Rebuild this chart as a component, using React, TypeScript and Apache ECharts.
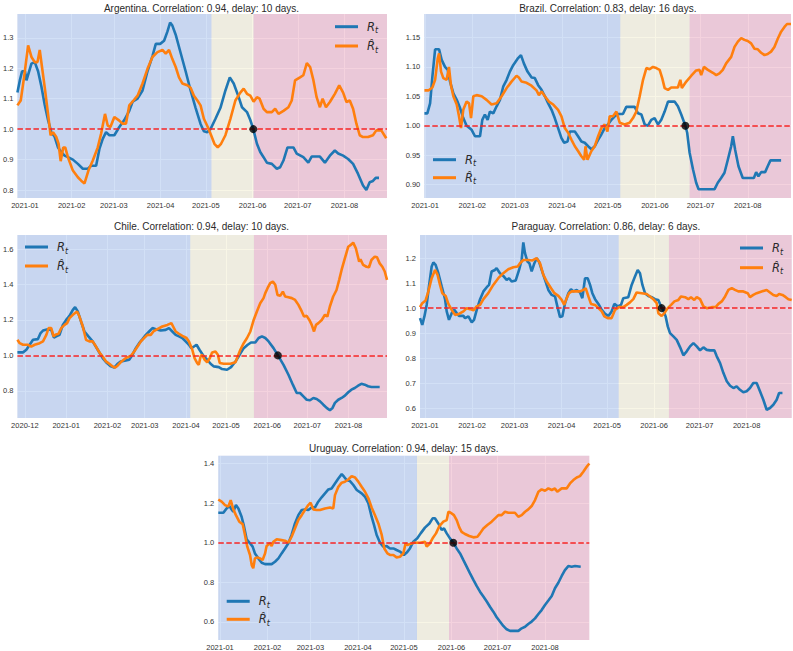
import React, { useEffect, useRef } from 'react';
import * as echarts from 'echarts';

// x values are days counted from 2021-01-01 (day 0)
const MONTH_TICKS = [-31, 0, 31, 59, 90, 120, 151, 181, 212];
const MONTH_LABELS = ['2020-12', '2021-01', '2021-02', '2021-03', '2021-04', '2021-05', '2021-06', '2021-07', '2021-08'];

const COUNTRIES = ['Argentina', 'Brazil', 'Chile', 'Paraguay', 'Uruguay'];
const CORRELATIONS = ['0.94', '0.83', '0.94', '0.86', '0.94'];
const DELAYS = [10, 16, 10, 6, 15];
const X_RANGES = [[-5, 240.2], [-0.5, 240.4], [-36.6, 240.9], [-3.3, 241.7], [-1.1, 240.9]];
const Y_RANGES = [[0.774, 1.378], [0.877, 1.19], [0.647, 1.679], [0.56, 1.293], [0.509, 1.439]];
const Y_TICKS = [
  [0.8, 0.9, 1.0, 1.1, 1.2, 1.3],
  [0.9, 0.95, 1.0, 1.05, 1.1, 1.15],
  [0.8, 1.0, 1.2, 1.4, 1.6],
  [0.6, 0.7, 0.8, 0.9, 1.0, 1.1, 1.2],
  [0.6, 0.8, 1.0, 1.2, 1.4],
];
const Y_DECIMALS = [1, 2, 1, 1, 1];
const PHASE_EDGES = [[123.8, 151.7], [128.3, 173.8], [93.2, 141], [127.7, 160.8], [128.5, 149.4]];
const CROSS_DAYS = [151.5, 171, 159, 156, 152.2];
const THRESHOLD = 1.0;

const ARG_RT = [[-5,1.12],[-3.4,1.16],[-1.9,1.19],[0,1.19],[1,1.16],[4.3,1.215],[6.5,1.22],[8.7,1.19],[10.9,1.14],[13.1,1.08],[15.3,1.03],[17.5,0.99],[19.7,0.975],[21.9,0.94],[24.1,0.925],[26.3,0.913],[28.5,0.908],[31.8,0.9],[35.1,0.886],[38.4,0.87],[41.7,0.87],[43.9,0.88],[47.2,0.88],[49.4,0.935],[51.6,0.968],[53.8,0.99],[56,0.98],[59.3,0.98],[62.6,1.007],[65.9,1.03],[69.2,1.06],[71.4,1.09],[74.7,1.1],[78,1.127],[81.3,1.19],[84.6,1.24],[86.8,1.28],[89.7,1.28],[92.3,1.29],[94.5,1.32],[96.3,1.35],[97.8,1.34],[100,1.31],[103.3,1.25],[106.6,1.19],[109.9,1.127],[113.2,1.07],[116.5,1.017],[118.7,0.993],[120.9,0.99],[123.1,1.0],[126.4,1.034],[129.7,1.07],[133,1.127],[135.9,1.17],[138.5,1.15],[141.8,1.105],[144,1.072],[147.3,1.056],[149.5,1.03],[151.5,1.0],[153.9,0.952],[156.1,0.925],[158.3,0.908],[160.5,0.89],[163.8,0.886],[167.1,0.87],[169.3,0.875],[171.5,0.897],[174.2,0.94],[178.1,0.94],[180.3,0.92],[184.7,0.908],[188,0.89],[190.2,0.91],[195.7,0.91],[199,0.89],[202.3,0.913],[205.6,0.93],[207.8,0.92],[211.1,0.913],[214.4,0.902],[217.7,0.886],[221,0.853],[224.3,0.815],[226.5,0.8],[228.7,0.826],[230.9,0.83],[232.7,0.84],[234.9,0.84]];
const ARG_RHAT = [[-5,1.078],[-2.8,1.094],[-0.6,1.17],[2.1,1.275],[4.3,1.237],[6.5,1.22],[8.3,1.22],[9.8,1.26],[11.3,1.204],[13.1,1.138],[15.3,1.05],[17,0.98],[18.6,0.99],[20.8,0.974],[22.3,0.952],[23.7,0.895],[25.4,0.94],[26.7,0.94],[28.5,0.908],[31.8,0.864],[35.1,0.842],[37.3,0.831],[39.5,0.822],[42.1,0.864],[45,0.897],[48.3,0.94],[50.5,0.985],[53.1,1.05],[54.9,1.012],[56.7,1.007],[59.3,1.04],[62.6,1.028],[64.8,1.018],[67,1.018],[69.2,1.078],[72,1.094],[74.7,1.11],[78,1.15],[81.3,1.198],[84.6,1.237],[87.9,1.253],[91.2,1.26],[93.4,1.248],[95.6,1.26],[97.8,1.23],[100,1.204],[102.2,1.17],[104.4,1.15],[107.7,1.144],[109.9,1.136],[112.1,1.11],[114.4,1.094],[116.5,1.078],[118.7,1.034],[121.3,1.007],[123.5,0.98],[125.7,0.952],[127.9,0.94],[130.1,0.952],[133,0.98],[136.3,1.034],[139.6,1.094],[142.9,1.12],[145.1,1.133],[147.3,1.116],[149.5,1.11],[151.7,1.09],[153.9,1.105],[155.7,1.1],[158.3,1.067],[160.5,1.056],[163.8,1.056],[166,1.067],[168.2,1.05],[171.5,1.06],[174.8,1.072],[177,1.094],[179.2,1.16],[182.5,1.17],[184.7,1.177],[187,1.217],[189.2,1.204],[191.4,1.16],[193.5,1.105],[195.7,1.072],[197.5,1.1],[199.7,1.072],[202.3,1.089],[205.6,1.116],[208.5,1.144],[211.1,1.12],[213.3,1.089],[215.5,1.094],[217.7,1.067],[219.9,1.018],[222.1,0.98],[224.3,0.974],[227.6,0.974],[230.9,0.98],[233.1,0.996],[236.4,0.996],[239.7,0.97]];

const BRA_RT = [[-0.4,1.021],[1.5,1.021],[3.3,1.038],[4.8,1.083],[6.6,1.13],[9.2,1.13],[10.9,1.112],[13.1,1.1],[14.9,1.095],[16.4,1.075],[18.6,1.055],[20.8,1.044],[23,1.03],[25.1,1.013],[27.3,1.0],[30.6,0.993],[32.8,0.982],[36.1,0.982],[37.6,1.01],[39.3,1.019],[41.1,1.01],[42.6,1.024],[44.8,1.021],[47,1.033],[49.2,1.044],[51.4,1.067],[53.6,1.078],[55.7,1.092],[57.9,1.103],[60.8,1.114],[63,1.12],[64.9,1.106],[67.3,1.092],[70,1.082],[72.1,1.081],[74.3,1.069],[76.5,1.061],[78.7,1.05],[80.9,1.038],[83.1,1.027],[85.2,1.013],[87.4,0.996],[89.6,0.979],[91.4,0.971],[93.6,0.973],[95.1,0.99],[98.4,0.99],[100.5,0.982],[102.7,0.973],[104.9,0.971],[107.1,0.965],[109.3,0.96],[111.5,0.965],[113.7,0.976],[115.8,0.985],[118,0.996],[120.2,1.002],[122.4,1.01],[124.6,1.016],[126.8,1.02],[130,1.02],[132.2,1.032],[137.7,1.032],[139.9,1.021],[142.1,1.019],[144.3,1.002],[146.4,1.0],[148.6,1.01],[150.8,1.013],[153,1.002],[155.2,1.01],[157.4,1.024],[159.6,1.041],[163.9,1.041],[166.1,1.033],[168.3,1.019],[171,1.0],[172.2,0.988],[173.8,0.954],[176,0.926],[178.1,0.903],[179.7,0.892],[190.2,0.892],[192.3,0.903],[194.5,0.911],[196.7,0.92],[198.9,0.942],[201.1,0.965],[202.2,0.982],[203.7,0.959],[205.9,0.931],[208.7,0.911],[216,0.911],[217.5,0.921],[219,0.914],[220.8,0.921],[223.4,0.921],[225.1,0.931],[226.9,0.941],[233.9,0.941]];
const BRA_RHAT = [[-0.4,1.06],[2.2,1.06],[4.8,1.065],[6.6,1.078],[8.3,1.114],[9.2,1.123],[10.5,1.092],[12,1.081],[14.2,1.078],[15.7,1.1],[17,1.069],[18.6,1.05],[20.8,1.036],[22.3,1.016],[23.6,0.996],[25.1,1.027],[27.3,1.041],[28.9,1.038],[30.2,1.013],[31.7,1.05],[33.9,1.052],[37.2,1.05],[40.4,1.044],[43.7,1.036],[47,1.038],[50.3,1.05],[53.6,1.064],[56.8,1.075],[60.1,1.085],[61.6,1.082],[63.4,1.075],[66.7,1.073],[69.9,1.068],[73.2,1.06],[74.8,1.052],[76.5,1.058],[78.7,1.05],[81.3,1.041],[84.2,1.036],[87.4,1.027],[89.6,1.016],[91.8,0.996],[94,0.988],[96.2,0.976],[98.4,0.965],[100.5,0.957],[102.7,0.948],[104.5,0.942],[105.4,0.965],[106.7,0.942],[109.3,0.957],[111.5,0.965],[113.7,0.982],[115.8,0.996],[118,1.002],[119.8,0.99],[121.3,1.016],[123.5,1.016],[125.7,1.024],[127.9,1.005],[131.1,1.002],[134.4,1.005],[136.6,1.013],[138.8,1.024],[141,1.05],[143.2,1.078],[145.4,1.098],[147.5,1.096],[149.7,1.1],[151.9,1.098],[154.1,1.095],[155.8,1.081],[157.4,1.064],[159.6,1.061],[161.7,1.065],[166.1,1.065],[167.7,1.078],[168.7,1.064],[171.6,1.075],[174.9,1.085],[178.1,1.094],[180.3,1.095],[181.4,1.086],[183.2,1.1],[185.8,1.095],[189.1,1.09],[191.3,1.086],[193.4,1.089],[195.6,1.095],[197.8,1.106],[201.1,1.117],[203.3,1.134],[205.5,1.143],[207.7,1.149],[209.8,1.146],[212,1.144],[214.2,1.14],[216.4,1.131],[218.6,1.13],[220.8,1.124],[223,1.12],[225.1,1.122],[227.3,1.126],[229.5,1.134],[231.7,1.148],[233.9,1.16],[236.1,1.168],[237.8,1.173],[240.4,1.173]];

const CHL_RT = [[-36.6,1.017],[-32.4,1.017],[-29.9,1.032],[-27.4,1.06],[-24.9,1.088],[-21.2,1.092],[-19.2,1.126],[-17.4,1.14],[-13.7,1.148],[-11.2,1.144],[-9.2,1.1],[-7.5,1.107],[-5,1.116],[-2.5,1.172],[0,1.2],[2.5,1.223],[5,1.257],[6.7,1.272],[8.7,1.248],[11.2,1.19],[13.7,1.135],[16.7,1.107],[19.9,1.079],[23.7,1.032],[27.4,0.985],[30.6,0.957],[33.6,0.938],[36.1,0.931],[38.6,0.953],[41.1,0.966],[44.8,0.972],[47.3,0.976],[49.8,1.004],[52.3,1.041],[54.8,1.069],[57.3,1.092],[59.8,1.116],[62.3,1.135],[64.8,1.154],[67.3,1.148],[71,1.14],[74.7,1.144],[77.2,1.154],[79.7,1.135],[82.2,1.116],[84.7,1.107],[87.2,1.098],[89.7,1.079],[92.2,1.06],[93.9,1.041],[95.9,1.05],[97.9,1.06],[100.1,1.032],[103.4,0.994],[105.9,0.976],[108.4,0.953],[110.9,0.938],[114.6,0.934],[117.1,0.923],[120.8,0.919],[123.8,0.934],[127.1,0.966],[130.3,1.004],[133.3,1.041],[136.3,1.06],[138.8,1.073],[142,1.073],[144.5,1.098],[147,1.107],[149.5,1.098],[152,1.079],[155.7,1.041],[159,1.0],[163.2,0.947],[166.9,0.891],[170.2,0.835],[173.1,0.788],[175.6,0.788],[178.1,0.769],[180.6,0.75],[183.1,0.747],[185.6,0.76],[188.1,0.754],[190.6,0.741],[193.1,0.722],[195.6,0.704],[198,0.691],[200,0.704],[201.8,0.732],[204.3,0.75],[206.8,0.76],[209.3,0.773],[211.8,0.792],[214.2,0.807],[216.7,0.816],[219.2,0.829],[221.7,0.84],[224.2,0.835],[226.7,0.826],[229.2,0.822],[235.4,0.822]];
const CHL_RHAT = [[-36.6,1.088],[-34.9,1.069],[-32.4,1.06],[-28.6,1.06],[-26.2,1.05],[-23.7,1.06],[-19.9,1.069],[-17.4,1.079],[-14.9,1.116],[-13.2,1.154],[-11.2,1.154],[-9.5,1.107],[-8.2,1.116],[-5.7,1.122],[-3.7,1.154],[-1.2,1.172],[0.7,1.182],[2.5,1.21],[5,1.229],[8.2,1.248],[10,1.219],[12.5,1.163],[14.9,1.088],[17.4,1.079],[19.9,1.079],[22.4,1.05],[24.9,1.017],[27.4,0.994],[29.9,0.966],[32.4,0.953],[34.9,0.938],[36.6,0.931],[38.6,0.942],[41.6,0.966],[44.8,0.985],[48.6,0.998],[51.1,1.022],[53.6,1.05],[56.1,1.079],[58.5,1.098],[61,1.116],[63.5,1.116],[65.5,1.135],[68.5,1.148],[72.2,1.163],[76,1.172],[79,1.182],[80.5,1.16],[82.2,1.135],[84.7,1.122],[87.2,1.11],[90.4,1.098],[92.2,1.079],[94.7,1.032],[96.4,0.985],[98.4,0.957],[99.6,0.947],[100.9,0.994],[102.1,1.004],[103.9,0.976],[105.9,0.961],[107.9,0.985],[109.6,1.017],[112.1,1.022],[113.9,1.004],[115.3,0.957],[118.3,0.953],[123.3,0.953],[127.1,0.961],[128.8,0.994],[130.8,1.032],[133.3,1.069],[135.8,1.098],[138.3,1.135],[140.8,1.2],[143.2,1.248],[145.7,1.294],[148.2,1.323],[149.5,1.351],[151.2,1.379],[153.2,1.407],[155.2,1.416],[157,1.398],[158.7,1.341],[160.7,1.336],[162.7,1.36],[164.4,1.332],[166.9,1.328],[169.4,1.323],[171.9,1.313],[174.4,1.285],[176.9,1.248],[178.6,1.219],[180.6,1.223],[182.6,1.2],[184.4,1.172],[186.1,1.135],[187.6,1.172],[189.4,1.182],[191.9,1.2],[194.3,1.229],[196.1,1.219],[198,1.276],[200.5,1.332],[203,1.369],[205,1.426],[206.8,1.482],[209.3,1.548],[211.8,1.613],[214.2,1.626],[215.5,1.636],[217.5,1.604],[220,1.529],[221,1.542],[223,1.51],[225.5,1.5],[227.4,1.497],[229.2,1.538],[231.7,1.557],[233.4,1.553],[235.4,1.519],[237.4,1.5],[239.2,1.473],[240.9,1.426]];

const PRY_RT = [[-3.3,0.96],[-1.8,0.933],[-0.4,0.967],[1.1,1.013],[2.6,1.087],[4.4,1.167],[5.5,1.183],[7,1.173],[8.8,1.14],[11,1.087],[13.2,1.036],[14.3,0.987],[15.8,0.953],[17.6,0.98],[19.3,0.993],[20.9,0.98],[22.4,0.969],[25.3,0.969],[26.4,0.96],[28.6,0.967],[30.8,0.943],[32.3,0.953],[34.1,0.993],[36.3,1.036],[38.5,1.067],[40.7,1.084],[42.2,1.093],[43.9,1.147],[46.1,1.153],[47.2,1.16],[49.4,1.14],[51.6,1.129],[53.8,1.113],[55.4,1.12],[57.1,1.107],[59.8,1.111],[62,1.153],[63.7,1.193],[64.8,1.263],[65.9,1.22],[67.5,1.187],[68.8,1.18],[70.3,1.147],[72.1,1.18],[73.6,1.2],[75.1,1.187],[76.9,1.153],[79.1,1.113],[81.3,1.073],[83.5,1.053],[85.7,1.047],[87.5,1.0],[89,0.964],[90.5,0.967],[92.3,1.02],[94.5,1.06],[96.2,1.076],[97.8,1.067],[100,1.073],[102.2,1.063],[103.7,1.04],[105.5,1.12],[107.2,1.12],[108.8,1.093],[110.3,1.06],[112.1,1.036],[114.3,1.017],[116.5,0.993],[118.7,0.977],[120.9,0.969],[123,0.987],[124.8,1.017],[127,1.007],[129.2,1.013],[130.7,1.04],[134,1.044],[136.2,1.093],[138.4,1.127],[140.2,1.153],[141.7,1.14],[143.3,1.093],[145,1.06],[147.2,1.049],[149.4,1.044],[151.6,1.036],[153.8,1.033],[155.6,1.007],[157.1,0.991],[158.6,0.967],[160,0.927],[161.5,0.9],[163.7,0.887],[165.9,0.873],[168.1,0.844],[170.3,0.811],[172.5,0.827],[174.7,0.847],[176.9,0.86],[179.1,0.847],[181.3,0.831],[183.5,0.843],[185.7,0.833],[187.9,0.831],[190.7,0.831],[192.3,0.807],[194.5,0.78],[196.7,0.74],[198.9,0.707],[201.1,0.689],[203.3,0.68],[205.4,0.687],[207.6,0.673],[209.8,0.663],[212,0.667],[214.2,0.68],[216.4,0.7],[218.6,0.7],[220.8,0.667],[223,0.633],[225.2,0.593],[227.4,0.6],[229.6,0.613],[231.8,0.633],[233.4,0.66],[235.6,0.66]];
const PRY_RHAT = [[-3.3,1.004],[-1.8,1.02],[0.4,1.031],[2.2,1.067],[4.4,1.12],[6.6,1.153],[8.3,1.133],[9.9,1.093],[11.4,1.06],[13.6,1.049],[15.4,1.017],[17.6,0.993],[19.8,0.973],[22.4,0.977],[25.3,0.987],[27.5,1.0],[29.7,0.996],[31.9,0.991],[34.1,1.007],[36.3,1.013],[38.5,1.036],[41.7,1.06],[45,1.093],[48.3,1.12],[51.6,1.14],[54.9,1.156],[58.2,1.164],[61.1,1.167],[62.6,1.18],[64.8,1.193],[68.1,1.193],[70.8,1.191],[73.6,1.2],[75.8,1.18],[78,1.133],[80.2,1.107],[83.1,1.08],[85.3,1.06],[87.9,1.049],[90.1,1.033],[91.8,1.013],[93.4,1.04],[94.9,1.06],[96.7,1.067],[102.2,1.067],[104.4,1.073],[105.9,1.08],[107.7,1.047],[109.4,1.017],[112.1,1.013],[114.3,1.0],[116.5,0.987],[118.2,0.967],[120.4,0.96],[123,0.96],[125.2,0.993],[127.9,1.004],[130.7,1.004],[132.9,1.013],[135.1,1.023],[137.3,1.036],[139.5,1.063],[142.8,1.06],[146.1,1.057],[148.3,1.047],[150.5,1.036],[152.7,1.02],[153.8,0.98],[156,0.969],[157.8,0.98],[160,1.0],[162.2,1.013],[164.4,1.027],[167,1.033],[168.8,1.047],[171.4,1.044],[173.6,1.036],[175.3,1.044],[177.5,1.033],[179.1,1.044],[181.3,1.036],[183.5,1.007],[185.7,1.0],[189,1.004],[191.6,1.004],[193.4,1.017],[195.6,1.027],[197.8,1.047],[200,1.073],[202.2,1.08],[204.3,1.073],[206.5,1.067],[209.8,1.067],[212.7,1.06],[214.2,1.044],[216.4,1.053],[218.6,1.06],[221.9,1.067],[225.2,1.073],[227.4,1.063],[229.6,1.053],[231.8,1.049],[233.4,1.057],[235.6,1.053],[237.8,1.044],[239.5,1.036],[241.7,1.033]];

const URY_RT = [[-1.1,1.151],[2.2,1.151],[4.3,1.173],[6.1,1.185],[7.6,1.168],[8.7,1.156],[10.4,1.19],[12,1.173],[14.1,1.131],[15.7,1.081],[17.4,1.017],[19.6,0.997],[21.3,0.98],[22.8,0.946],[25,0.921],[27.2,0.899],[29.4,0.892],[33.7,0.892],[35.9,0.904],[38.1,0.921],[40.2,0.946],[42.4,0.971],[44.6,0.997],[46.7,1.039],[48.9,1.097],[51.1,1.139],[53.3,1.165],[55.4,1.168],[57.6,1.165],[59.8,1.178],[62,1.178],[64.1,1.207],[66.3,1.229],[68.5,1.249],[70.7,1.269],[72.8,1.274],[75,1.299],[77.2,1.324],[79.4,1.346],[80.9,1.333],[82.6,1.316],[84.8,1.311],[87,1.291],[89.2,1.266],[92.4,1.249],[94.6,1.232],[96.8,1.198],[98.9,1.131],[100.5,1.089],[102.2,1.039],[104.4,1.0],[106.5,0.98],[108.7,0.983],[110.9,0.971],[113.1,0.971],[115.2,0.963],[117.4,0.955],[120,0.938],[121.8,0.95],[123.9,0.971],[126.1,1.005],[128.7,1.022],[130.9,1.047],[133.7,1.076],[136.6,1.097],[138.7,1.123],[140.2,1.123],[142.4,1.097],[144.6,1.064],[146.1,1.072],[147.9,1.047],[150,1.022],[152.2,1.0],[154.4,0.971],[156.6,0.946],[158.7,0.913],[160.9,0.879],[163.1,0.845],[165.3,0.812],[167.4,0.782],[169.6,0.753],[171.8,0.728],[174,0.703],[176.1,0.677],[178.3,0.652],[180.5,0.624],[182.6,0.602],[184.8,0.58],[187,0.563],[189.2,0.555],[194.6,0.555],[196.8,0.568],[199,0.576],[201.1,0.59],[203.3,0.602],[205.5,0.618],[207.7,0.64],[209.8,0.66],[212,0.686],[214.2,0.708],[216.4,0.731],[218.5,0.77],[220.7,0.798],[222.9,0.832],[225,0.862],[227.2,0.882],[229.4,0.879],[231.6,0.882],[235.3,0.879]];
const URY_RHAT = [[-1.1,1.218],[1.1,1.207],[3.3,1.19],[5.4,1.182],[7,1.215],[8.7,1.168],[10.4,1.139],[12.6,1.106],[14.8,1.094],[16.3,1.039],[17.8,0.98],[19.6,0.938],[20.7,0.887],[21.7,0.871],[22.8,0.921],[24.4,0.926],[26.1,0.921],[27.8,0.913],[29.4,0.946],[30.4,0.983],[32.6,0.997],[33.7,0.983],[34.8,1.005],[37,1.017],[40.2,1.013],[42.4,1.01],[44.6,1.0],[46.7,1.03],[48.9,1.072],[51.1,1.114],[53.3,1.139],[55.4,1.165],[57.6,1.19],[59.1,1.202],[60.9,1.168],[63.1,1.165],[65.2,1.165],[68.5,1.173],[71.8,1.178],[73.9,1.173],[75,1.24],[77.2,1.282],[79.4,1.303],[81.5,1.308],[83.7,1.319],[85.9,1.336],[88.1,1.329],[90.2,1.308],[92.4,1.282],[94.6,1.257],[96.8,1.224],[98.9,1.178],[101.1,1.139],[103.3,1.097],[105.5,1.039],[107.2,0.971],[109.2,0.946],[110.9,0.938],[113.1,0.938],[115.2,0.926],[117.4,0.929],[119.6,0.946],[121.1,0.997],[122.2,0.988],[123.9,0.993],[126.5,1.0],[130.5,1.0],[133.7,1.005],[134.8,0.98],[136.6,0.993],[138.7,1.022],[140.9,1.047],[143.1,1.084],[145.7,1.106],[147.9,1.114],[149,1.156],[150.5,1.151],[152.6,1.139],[154.4,1.114],[156.1,1.077],[157.6,1.055],[159.8,1.044],[162.6,1.034],[165.3,1.027],[167.9,1.03],[169.6,1.047],[171.8,1.072],[174.4,1.089],[177.2,1.106],[179.4,1.123],[181.6,1.139],[183.7,1.139],[185.9,1.156],[188.1,1.151],[192.4,1.151],[194.6,1.131],[196.8,1.139],[199,1.156],[201.1,1.168],[203.3,1.185],[205.5,1.215],[207.7,1.257],[209.8,1.269],[212,1.262],[214.2,1.274],[216.4,1.266],[218.5,1.274],[220,1.257],[222.9,1.274],[226.1,1.274],[228.3,1.299],[230.5,1.316],[232.7,1.329],[234.8,1.336],[237,1.358],[239.2,1.383],[240.9,1.4]];

const RT_SERIES = [ARG_RT, BRA_RT, CHL_RT, PRY_RT, URY_RT];
const RHAT_SERIES = [ARG_RHAT, BRA_RHAT, CHL_RHAT, PRY_RHAT, URY_RHAT];

// ---- layout & style ----
const GRIDS = [
  { left: 16, top: 14, width: 371, height: 184 },
  { left: 424.3, top: 14, width: 366.7, height: 184 },
  { left: 16, top: 235, width: 371, height: 183 },
  { left: 420, top: 235, width: 371.7, height: 183 },
  { left: 218.3, top: 455.7, width: 371, height: 184.3 },
];
const TITLE_POS = [[201.5, 8.7], [607.8, 8.7], [201.5, 226], [605.9, 226], [403.8, 448.3]];
const LEGEND_POS = [
  { left: 335, top: 20.7, gap: 5.3 },
  { left: 433, top: 153.7, gap: 4 },
  { left: 25, top: 241, gap: 5 },
  { left: 740, top: 242, gap: 5.7 },
  { left: 226.7, top: 595.3, gap: 4 },
];
const BLUE = '#1f77b4';
const ORANGE = '#ff7f0e';
const BAND_COLORS = ['rgba(166,194,238,0.5)', 'rgba(242,238,206,0.5)', 'rgba(234,166,190,0.5)'];
const TEXT = '#2a2a2a';
const FONT = 'Liberation Sans, Arial, sans-serif';

function buildOption() {
  const grid: any[] = [];
  const xAxis: any[] = [];
  const yAxis: any[] = [];
  const series: any[] = [];
  const legend: any[] = [];
  const graphic: any[] = [];

  COUNTRIES.forEach((country, k) => {
    const [xmin, xmax] = X_RANGES[k];
    const [ymin, ymax] = Y_RANGES[k];
    const xt = MONTH_TICKS.filter((d) => d >= xmin && d <= xmax);
    grid.push({ ...GRIDS[k], show: true, backgroundColor: '#EAEAF2', borderWidth: 0 });
    xAxis.push({
      type: 'value', gridIndex: k, min: xmin, max: xmax,
      axisLine: { show: false },
      axisTick: { show: false, customValues: xt },
      axisLabel: {
        customValues: xt, margin: 3, fontSize: 7.5, color: '#333', fontFamily: FONT,
        formatter: (v: number) => { const i = MONTH_TICKS.indexOf(Math.round(v)); return i >= 0 ? MONTH_LABELS[i] : ''; },
      },
      splitLine: { show: true, lineStyle: { color: '#ffffff', width: 1 } },
    });
    yAxis.push({
      type: 'value', gridIndex: k, min: ymin, max: ymax,
      axisLine: { show: false },
      axisTick: { show: false, customValues: Y_TICKS[k] },
      axisLabel: {
        customValues: Y_TICKS[k], margin: 4, fontSize: 7.5, color: '#333', fontFamily: FONT,
        formatter: (v: number) => v.toFixed(Y_DECIMALS[k]),
      },
      splitLine: { show: true, lineStyle: { color: '#ffffff', width: 1 } },
    });
    const [e1, e2] = PHASE_EDGES[k];
    series.push({
      type: 'line', name: 'Rt', xAxisIndex: k, yAxisIndex: k, data: RT_SERIES[k],
      showSymbol: false, symbol: 'none', z: 3,
      lineStyle: { color: BLUE, width: 2.6 }, itemStyle: { color: BLUE },
      markArea: {
        silent: true,
        data: [
          [{ xAxis: xmin, itemStyle: { color: BAND_COLORS[0] } }, { xAxis: e1 }],
          [{ xAxis: e1, itemStyle: { color: BAND_COLORS[1] } }, { xAxis: e2 }],
          [{ xAxis: e2, itemStyle: { color: BAND_COLORS[2] } }, { xAxis: xmax }],
        ],
      },
      markLine: {
        silent: true, symbol: ['none', 'none'], label: { show: false },
        lineStyle: { color: '#f52424', type: [5.5, 2.5], width: 1.6 },
        data: [{ yAxis: THRESHOLD }],
      },
    });
    series.push({
      type: 'line', name: 'Rhat', xAxisIndex: k, yAxisIndex: k, data: RHAT_SERIES[k],
      showSymbol: false, symbol: 'none', z: 4,
      lineStyle: { color: ORANGE, width: 2.6 }, itemStyle: { color: ORANGE },
    });
    series.push({
      type: 'scatter', name: 'cross', xAxisIndex: k, yAxisIndex: k,
      data: [[CROSS_DAYS[k], THRESHOLD]], symbolSize: 8, z: 10, silent: true,
      itemStyle: { color: '#000' },
    });
    const lp = LEGEND_POS[k];
    legend.push({
      data: ['Rt', 'Rhat'], orient: 'vertical', left: lp.left, top: lp.top, itemGap: lp.gap,
      itemWidth: 23, itemHeight: 3, icon: 'rect', padding: 0, selectedMode: false,
      formatter: (name: string) => (name === 'Rt' ? '{i|R}{s|t}' : '{i|R\u0302}{s|t}'),
      textStyle: {
        rich: {
          i: { fontFamily: 'DejaVu Sans', fontStyle: 'italic', fontSize: 11.5, lineHeight: 16, color: TEXT, padding: [0, 0, 0, 4] },
          s: { fontFamily: 'DejaVu Sans', fontStyle: 'italic', fontSize: 8, lineHeight: 9, color: TEXT, verticalAlign: 'bottom' },
        },
      },
    });
    graphic.push({
      type: 'text', x: TITLE_POS[k][0], y: TITLE_POS[k][1], silent: true,
      style: {
        text: `${country}. Correlation: ${CORRELATIONS[k]}, delay: ${DELAYS[k]} days.`,
        fill: TEXT, fontSize: 10, fontFamily: FONT, align: 'center', verticalAlign: 'middle',
      },
    });
  });

  return { animation: false, backgroundColor: '#ffffff', grid, xAxis, yAxis, series, legend, graphic };
}

export default function App() {
  const ref = useRef<HTMLDivElement>(null);
  useEffect(() => {
    if (!ref.current) return;
    const chart = echarts.init(ref.current, null, { renderer: 'svg' });
    chart.setOption(buildOption() as any);
    return () => chart.dispose();
  }, []);
  return <div ref={ref} style={{ position: 'fixed', left: 0, top: 0, width: 793, height: 651, background: '#fff' }} />;
}
